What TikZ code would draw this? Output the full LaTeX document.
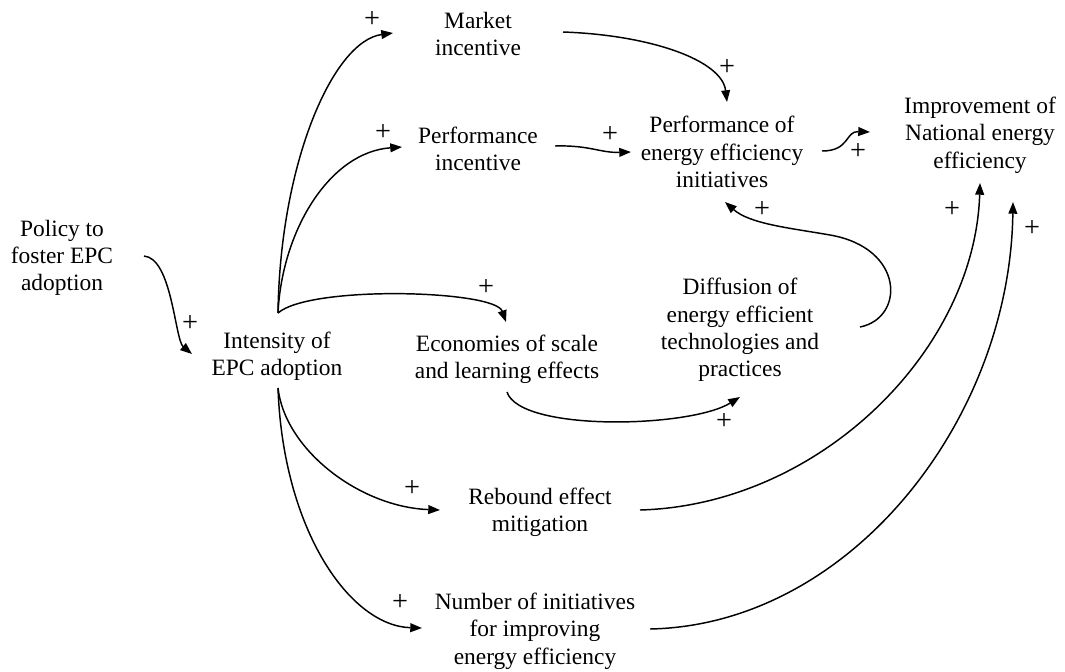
\documentclass[tikz,border=0pt]{standalone}
\usepackage{fontspec}
\setmainfont{Liberation Serif}
\usetikzlibrary{arrows.meta,calc}

\tikzset{
  var/.style={align=center, font=\fontsize{12}{14}\selectfont},
  link/.style={-{Triangle[length=6pt,width=4.5pt]}, line width=0.75pt},
  sgn/.style={font=\fontsize{14.5}{16}\selectfont, inner sep=0pt},
}

\begin{document}
\begin{tikzpicture}[x=0.018cm,y=-0.018cm]
\useasboundingbox (0,0) rectangle (1065,671);
% variables
\node[var] (policy) at (62,258) {Policy to\\foster EPC\\adoption};
\node[var] (intensity) at (277,356) {Intensity of\\EPC adoption};
\node[var] (market) at (478,34) {Market\\incentive};
\node[var] (perfinc) at (478,149) {Performance\\incentive};
\node[var] (perfee) at (722,152) {Performance of\\energy efficiency\\initiatives};
\node[var] (improve) at (980,135) {Improvement of\\National energy\\efficiency};
\node[var] (econ) at (507,359) {Economies of scale\\and learning effects};
\node[var] (diffuse) at (740,330) {Diffusion of\\energy efficient\\technologies and\\practices};
\node[var] (rebound) at (540,512) {Rebound effect\\mitigation};
\node[var] (number) at (535,631) {Number of initiatives\\for improving\\energy efficiency};

% causal links
\draw[link] ($(policy)+(82,-2)$) .. controls +(28,2) and +(-17,-14) .. ($(intensity)+(-85,-2)$);
\draw[link] ($(intensity)+(1,-43)$) .. controls +(2,-150) and +(-60,8) .. ($(market)+(-85,-1)$);
\draw[link] ($(intensity)+(1,-43)$) .. controls +(4,-83) and +(-72,5) .. ($(perfinc)+(-76,-2)$);
\draw[link] ($(intensity)+(1,-43)$) .. controls +(32,-28) and +(-11,-32) .. ($(econ)+(-1,-37)$);
\draw[link] ($(intensity)+(1,32)$) .. controls +(7,62) and +(-80,-3) .. ($(rebound)+(-100,-2)$);
\draw[link] ($(intensity)+(1,32)$) .. controls +(5,142) and +(-72,-2) .. ($(number)+(-113,-3)$);
\draw[link] ($(market)+(85,-2)$) .. controls +(87,3) and +(-5,-42) .. ($(perfee)+(5,-50)$);
\draw[link] ($(perfinc)+(77,-3)$) .. controls +(35,-1) and +(-31,1) .. ($(perfee)+(-91,0)$);
\draw[link] ($(perfee)+(100,-1)$) .. controls +(28,0) and +(-25,-1) .. ($(improve)+(-110,-3)$);
\draw[link] ($(diffuse)+(120,-3)$) .. controls +(45,-9) and +(75,13) .. ($(diffuse)+(90,-95)$)
  .. controls +(-40,-7) and +(25,22) .. ($(perfee)+(3,50)$);
\draw[link] ($(econ)+(0,33)$) .. controls +(13,40) and +(-50,31) .. ($(diffuse)+(0,67)$);
\draw[link] ($(rebound)+(100,-2)$) .. controls +(180,-5) and +(-5,167) .. ($(improve)+(0,48)$);
\draw[link] ($(number)+(115,-2)$) .. controls +(200,-4) and +(-3,218) .. ($(improve)+(33,67)$);

% polarities
\foreach \i/\x/\y in {1/190/323, 2/372/20, 3/383/132, 4/486/287, 5/412/488,
  6/400/602, 7/727/68, 8/610/135, 9/858/151, 10/762/209, 11/724/421,
  12/952/209, 13/1032/228}
  \node[sgn] (s\i) at (\x,\y) {+};
\end{tikzpicture}
\end{document}
